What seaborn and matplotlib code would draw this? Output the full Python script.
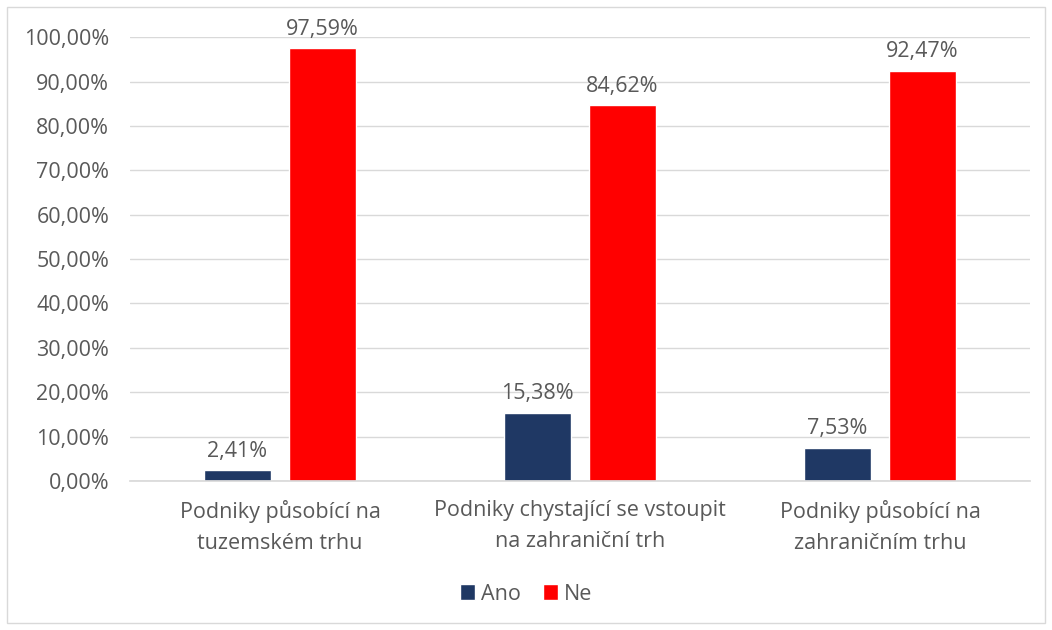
import matplotlib
matplotlib.use("Agg")
import matplotlib.pyplot as plt
import seaborn as sns
import pandas as pd
from matplotlib.patches import Rectangle
from matplotlib.ticker import FuncFormatter

categories = ["Podniky působící na\ntuzemském trhu",
              "Podniky chystající se vstoupit\nna zahraniční trh",
              "Podniky působící na\nzahraničním trhu"]
ano = [2.41, 15.38, 7.53]
ne = [97.59, 84.62, 92.47]
series = ["Ano", "Ne"]
colors = ["#1F3864", "#FF0000"]

df = pd.DataFrame({
    "cat": categories * 2,
    "val": ano + ne,
    "ser": ["Ano"] * 3 + ["Ne"] * 3,
})

sns.set_theme(style="white")
plt.rcParams['font.family'] = ['Open Sans', 'DejaVu Sans']
txt = "#595959"
fs = 15.5

fig = plt.figure(figsize=(10.52, 6.30), dpi=100)
ax = fig.add_axes([0.1236, 0.2365, 0.8555, 0.7045])
sns.barplot(data=df, x="cat", y="val", hue="ser", hue_order=series,
            palette=colors, width=0.567, gap=0.21, ax=ax, saturation=1)

ax.set_ylim(0, 100)
ax.set_xlim(-0.5, 2.5)
ax.set_yticks(range(0, 101, 10))
ax.yaxis.set_major_formatter(FuncFormatter(lambda v, p: f"{v:.2f}%".replace(".", ",")))
ax.grid(axis="y", color="#D9D9D9", linewidth=1)
ax.set_axisbelow(True)
for s in ["left", "right", "top"]:
    ax.spines[s].set_visible(False)
ax.spines["bottom"].set_color("#D9D9D9")
ax.tick_params(axis="both", length=0, labelsize=fs, colors=txt)
ax.tick_params(axis="y", pad=15)
ax.tick_params(axis="x", pad=14)
for lab in ax.get_xticklabels():
    lab.set_linespacing(1.6)
ax.set_xlabel("")
ax.set_ylabel("")

for cont in ax.containers:
    ax.bar_label(cont, labels=[f"{v:.2f}%".replace(".", ",") for v in cont.datavalues],
                 padding=6, fontsize=fs, color=txt)

leg = ax.legend(loc="center", bbox_to_anchor=(0.5, 36 / 630), bbox_transform=fig.transFigure,
                ncol=2, frameon=False, fontsize=fs, handlelength=0.7, handleheight=0.7,
                handletextpad=0.3, columnspacing=1.0)
for t in leg.get_texts():
    t.set_color(txt)

fig.patches.append(Rectangle((7 / 1052, 7 / 630), 1038 / 1052, 616 / 630,
                             transform=fig.transFigure, fill=False,
                             edgecolor="#D9D9D9", linewidth=1))
fig.savefig("out.png", dpi=100)
